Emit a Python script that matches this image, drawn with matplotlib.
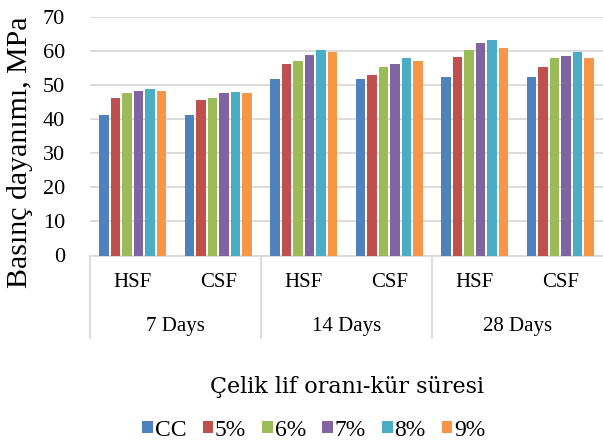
import numpy as np
import matplotlib
matplotlib.use("Agg")
import matplotlib.pyplot as plt
from matplotlib.patches import Patch
import matplotlib.transforms as mtransforms

# data (MPa)
fiber_types = ["HSF", "CSF", "HSF", "CSF", "HSF", "CSF"]
cure_days = ["7 Days", "14 Days", "28 Days"]
series_names = ["CC", "5%", "6%", "7%", "8%", "9%"]

cc      = [41.2, 41.2, 51.8, 51.8, 52.3, 52.3]
pct5    = [46.3, 45.5, 56.2, 52.9, 58.2, 55.2]
pct6    = [47.5, 46.1, 56.9, 55.4, 60.2, 57.8]
pct7    = [48.2, 47.5, 58.9, 56.1, 62.4, 58.5]
pct8    = [48.8, 47.9, 60.2, 58.0, 63.3, 59.6]
pct9    = [48.3, 47.7, 59.6, 57.1, 60.8, 57.9]

series = [cc, pct5, pct6, pct7, pct8, pct9]
colors = ["#4F81BD", "#C0504D", "#9BBB59", "#8064A2", "#4BACC6", "#F79646"]

SERIF = "Liberation Serif"
GRID = "#D9D9D9"

fig = plt.figure(figsize=(6.03, 4.46), dpi=100)
ax = fig.add_axes([90 / 603, 1 - 255.5 / 446, 513 / 603, 238.8 / 446])

x = np.arange(len(fiber_types))
width = 0.11
step = 0.134
for i, (vals, col) in enumerate(zip(series, colors)):
    offset = (i - 2.5) * step
    ax.bar(x + offset, vals, width, color=col, zorder=3)

ax.set_xlim(-0.5, len(fiber_types) - 0.5)
ax.set_ylim(0, 70)
ax.set_yticks(range(0, 71, 10))
ax.yaxis.grid(True, color=GRID, linewidth=1.3, zorder=0)
ax.set_axisbelow(True)
for s in ["top", "right", "left"]:
    ax.spines[s].set_visible(False)
ax.spines["bottom"].set_color(GRID)
ax.spines["bottom"].set_linewidth(1.3)
ax.tick_params(axis="y", length=0, pad=18, labelsize=16)
for lab in ax.get_yticklabels():
    lab.set_fontfamily(SERIF)
ax.set_xticks([])

# two-level category axis
trans = mtransforms.blended_transform_factory(ax.transData, ax.transAxes)
for xi, name in zip(x, fiber_types):
    ax.text(xi, -0.115, name, transform=trans, ha="center", va="center",
            fontsize=15, family=SERIF)
for k, name in enumerate(cure_days):
    ax.text(2 * k + 0.5, -0.297, name, transform=trans, ha="center",
            va="center", fontsize=15, family=SERIF)
for sep in [-0.5, 1.5, 3.5]:
    ax.plot([sep, sep], [0, -0.345], transform=trans, color=GRID,
            linewidth=1.3, clip_on=False)

fig.text(20 / 603, 1 - 152 / 446, "Basınç dayanımı, MPa", rotation=90,
         ha="center", va="center", fontsize=21.5, family=SERIF)
fig.text(347 / 603, 1 - 387 / 446, "Çelik lif oranı-kür süresi",
         ha="center", va="center", fontsize=16, family="DejaVu Serif")

handles = [Patch(facecolor=c, edgecolor="none") for c in colors]
fig.legend(handles, series_names, loc="center", ncol=6,
           bbox_to_anchor=(314 / 603, 1 - 430 / 446), frameon=False,
           handlelength=0.45, handleheight=0.45, handletextpad=0.08,
           columnspacing=0.68, borderpad=0, prop={"family": SERIF, "size": 17})

fig.savefig("out.png", dpi=100)
